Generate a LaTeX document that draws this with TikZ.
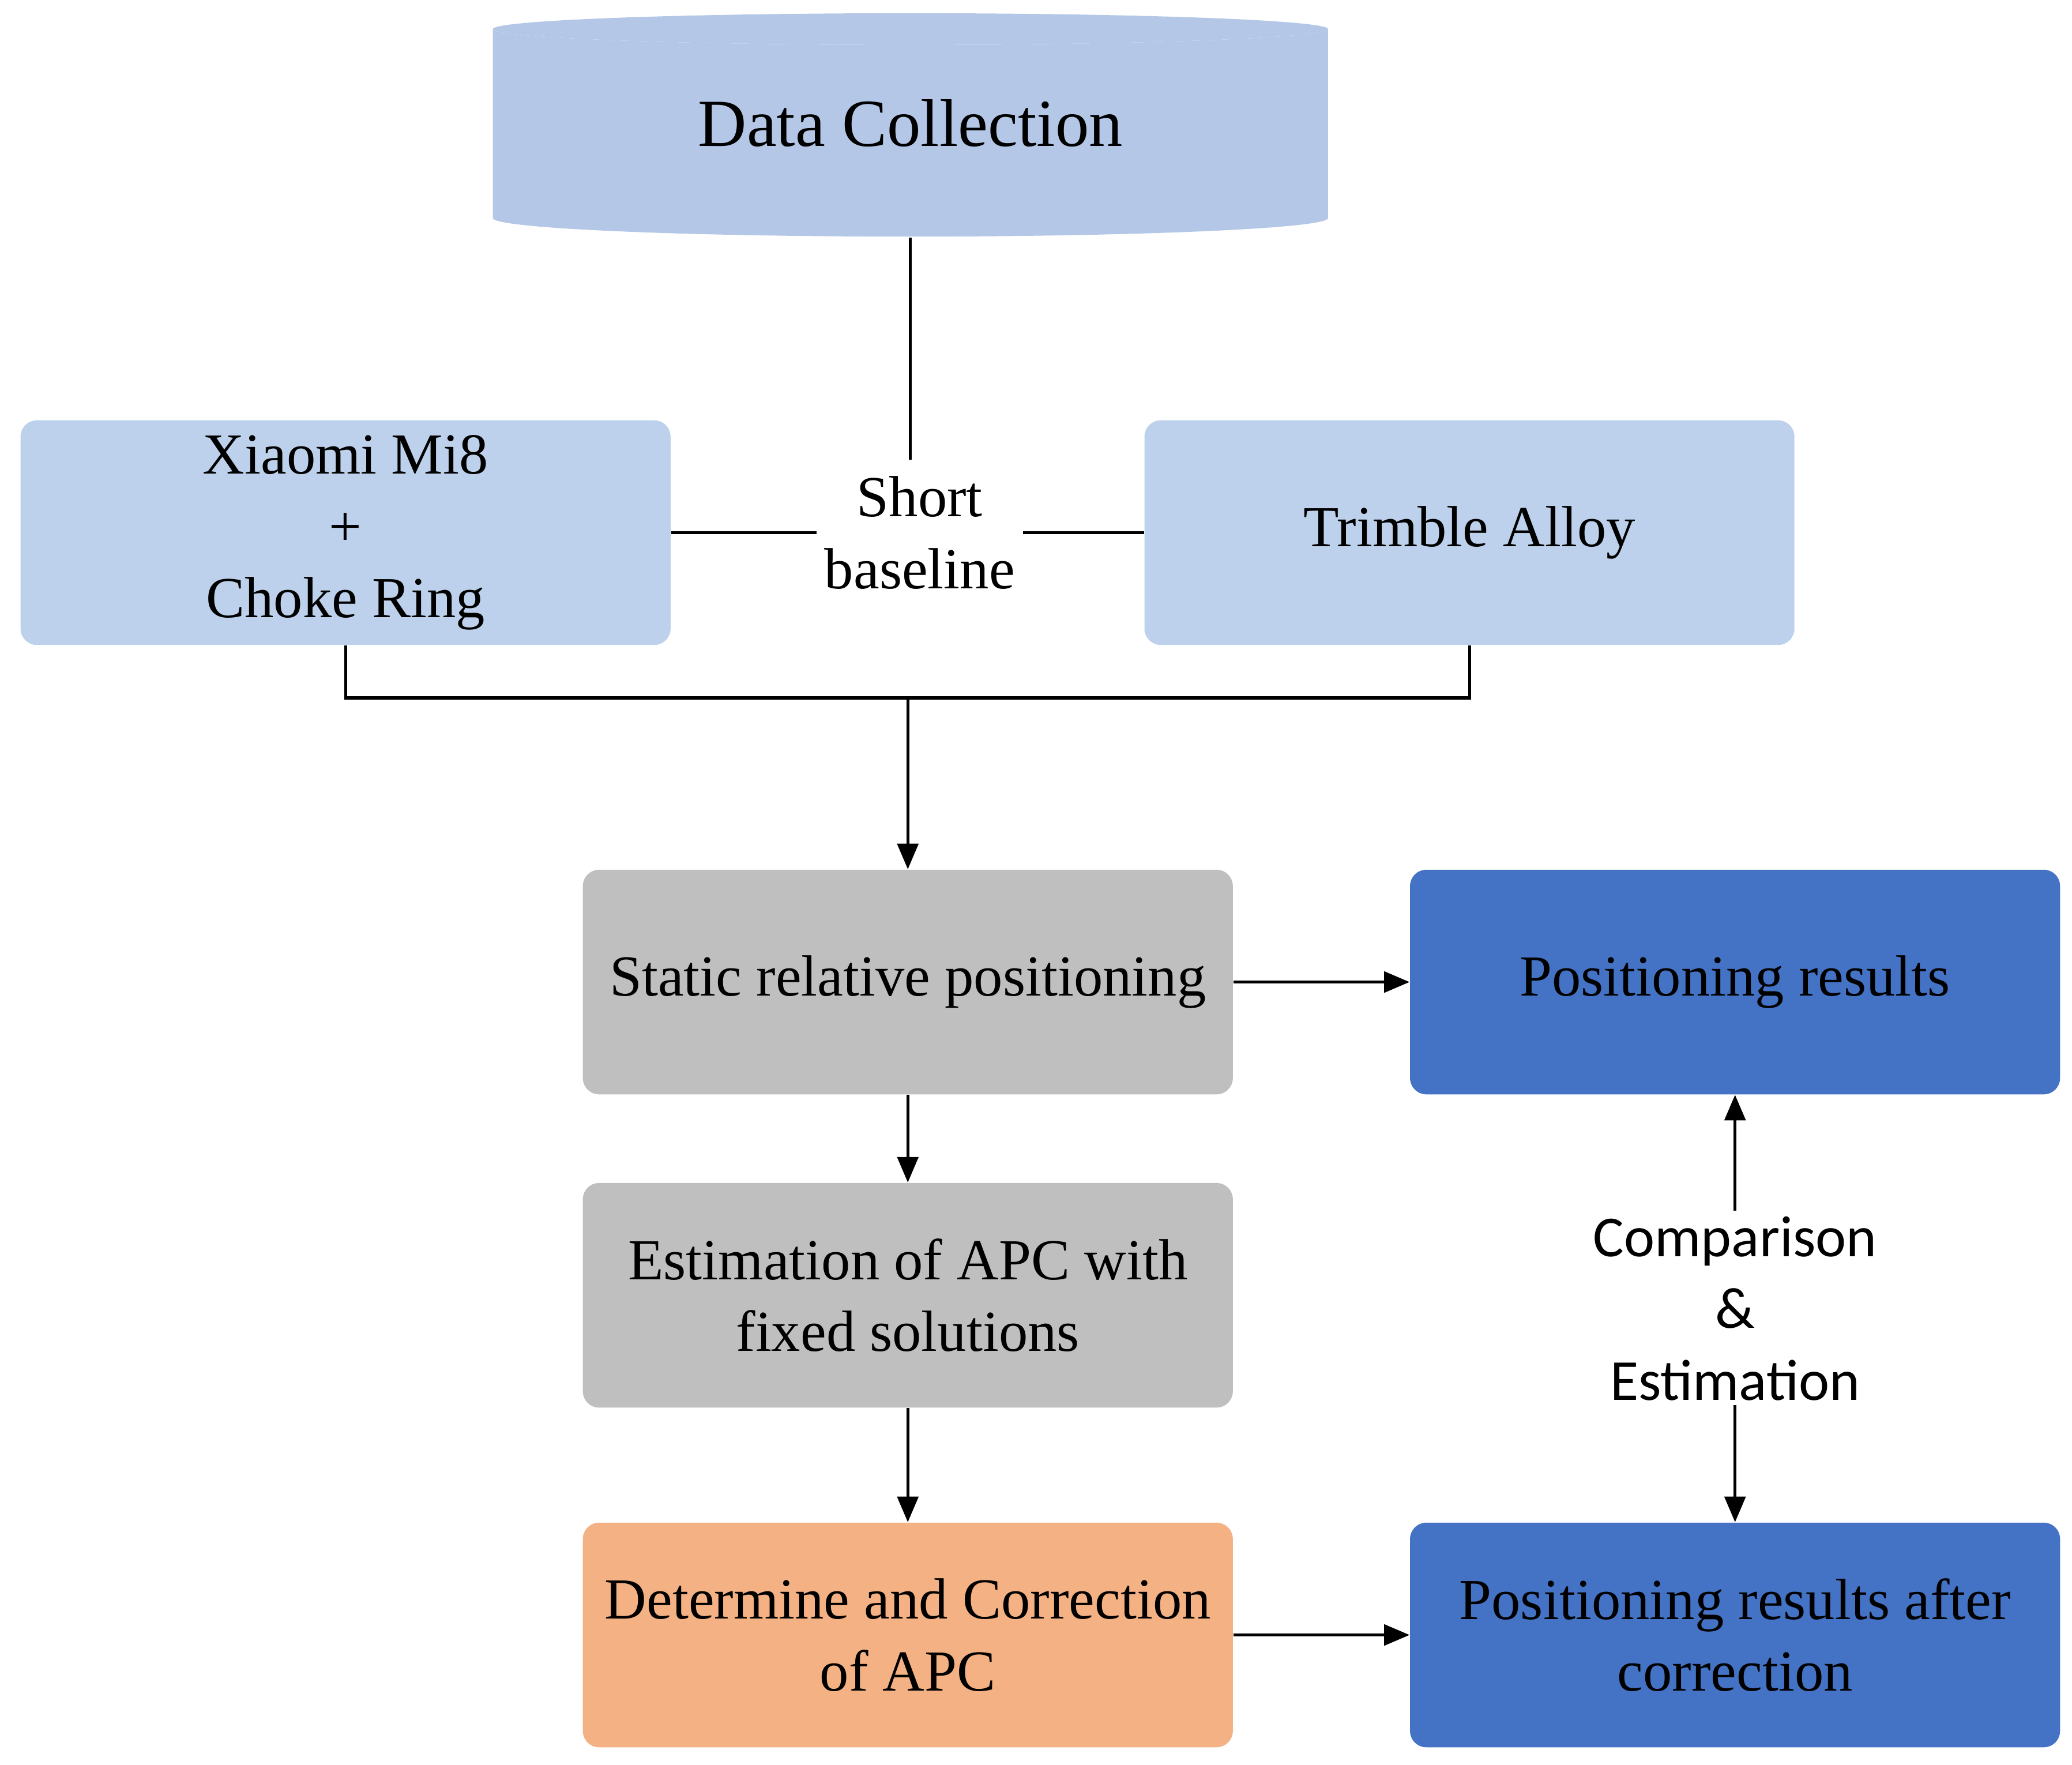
\documentclass[tikz,border=0pt]{standalone}
\usepackage{fontspec}
\setmainfont{Liberation Serif}
\newfontfamily\sans{Carlito}
\usetikzlibrary{arrows.meta}
\definecolor{cyl}{HTML}{B4C7E7}
\definecolor{lb}{HTML}{BDD1EC}
\definecolor{gr}{HTML}{BFBFBF}
\definecolor{db}{HTML}{4472C4}
\definecolor{or}{HTML}{F4B183}
\begin{document}
\begin{tikzpicture}[x=0.02cm,y=-0.02cm,
  box/.style={draw=none,rounded corners=7pt,minimum width=9.84cm,minimum height=3.4cm,align=center,font=\fontsize{25}{31}\selectfont},
  ln/.style={line width=1.3pt},
  ar/.style={ln,-{Triangle[length=11pt,width=9pt]}}]
\useasboundingbox (0,0) rectangle (1568,1335);
% cylinder
\fill[cyl] (373,22) arc[start angle=180,end angle=360,x radius=316,y radius=-12] -- (1005,165) arc[start angle=0,end angle=-180,x radius=316,y radius=-14] -- cycle;
\fill[cyl] (689,22) ellipse[x radius=316,y radius=12];
\node[font=\fontsize{29}{34}\selectfont] (dc) at (689,93) {Data Collection};
\coordinate (dcb) at (689,180);
\node[box,fill=lb] (xm) at (261.5,403) {Xiaomi Mi8\\+\\Choke Ring};
\node[box,fill=lb] (tr) at (1112,403) {Trimble Alloy};
\node[box,fill=gr] (st) at (687,743) {Static relative positioning};
\node[box,fill=gr] (es) at (687,980) {Estimation of APC with\\fixed solutions};
\node[box,fill=or] (de) at (687,1237) {Determine and Correction\\of APC};
\node[box,fill=db] (pr) at (1313,743) {Positioning results};
\node[box,fill=db] (pa) at (1313,1237) {Positioning results after\\correction};
\node[align=center,font=\fontsize{25}{31}\selectfont] (sb) at (696,403) {Short\\baseline};
\node[align=center,font=\sans\fontsize{25}{31}\selectfont] (ce) at (1313,990) {Comparison\\\&\\Estimation};
\coordinate (sbt) at (689,348);
\coordinate (j) at (687,528);
\draw[ln] (dcb) -- (sbt);
\draw[ln] (xm.east) -- (sb.west);
\draw[ln] (sb.east) -- (tr.west);
\draw[ln] (xm.south) |- (j) -| (tr.south);
\draw[ar] (j) -- (st.north);
\draw[ar] (st) -- (pr);
\draw[ar] (st) -- (es);
\draw[ar] (es) -- (de);
\draw[ar] (de) -- (pa);
\draw[ar] (ce.north) ++(0,2) -- (pr.south);
\draw[ar] (ce.south) ++(0,-3) -- (pa.north);
\end{tikzpicture}
\end{document}
